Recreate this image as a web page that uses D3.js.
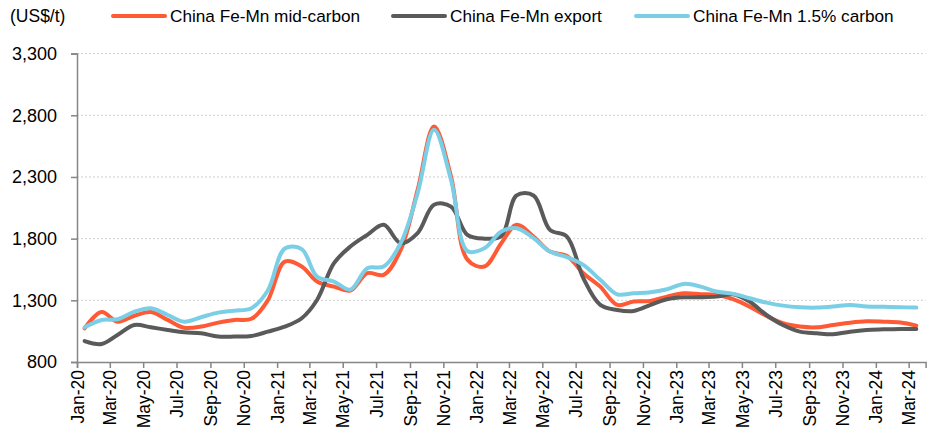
<!DOCTYPE html>
<html>
<head>
<meta charset="utf-8">
<script src="https://cdn.jsdelivr.net/npm/d3@7"></script>
<style>
  body { margin: 0; background: #fff; }
  text { font-family: "Liberation Sans", Arial, sans-serif; fill: #000; }
</style>
</head>
<body>
<div id="chart"></div>
<script>
// months (one point per month, plotted mid-month like the original)
const months = ["Jan-20","Feb-20","Mar-20","Apr-20","May-20","Jun-20","Jul-20","Aug-20","Sep-20","Oct-20","Nov-20","Dec-20",
  "Jan-21","Feb-21","Mar-21","Apr-21","May-21","Jun-21","Jul-21","Aug-21","Sep-21","Oct-21","Nov-21","Dec-21",
  "Jan-22","Feb-22","Mar-22","Apr-22","May-22","Jun-22","Jul-22","Aug-22","Sep-22","Oct-22","Nov-22","Dec-22",
  "Jan-23","Feb-23","Mar-23","Apr-23","May-23","Jun-23","Jul-23","Aug-23","Sep-23","Oct-23","Nov-23","Dec-23",
  "Jan-24","Feb-24","Mar-24"];

const midCarbon = [1073,1205,1127,1175,1205,1141,1078,1087,1119,1141,1150,1300,
  1614,1574,1452,1411,1379,1520,1506,1709,2196,2710,2304,1630,
  1574,1763,1912,1817,1695,1660,1520,1411,1263,1290,1295,1330,
  1357,1350,1344,1309,1249,1173,1114,1087,1081,1100,1119,1130,
  1127,1120,1095];

const exportPrice = [970,946,1019,1100,1081,1060,1041,1033,1006,1006,1011,1046,
  1087,1155,1303,1601,1736,1831,1912,1763,1845,2075,2060,1830,
  1800,1820,2150,2150,1871,1817,1480,1263,1222,1214,1263,1309,
  1325,1325,1330,1349,1290,1181,1100,1046,1033,1025,1046,1060,
  1065,1068,1068];

const carbon15 = [1081,1141,1146,1208,1236,1181,1127,1163,1200,1216,1236,1380,
  1720,1715,1492,1452,1387,1560,1574,1763,2169,2683,2277,1700,
  1722,1858,1885,1804,1695,1650,1587,1466,1349,1357,1365,1390,
  1433,1411,1371,1352,1317,1281,1257,1244,1241,1249,1263,1249,
  1247,1244,1241];

const seriesNames = ["China Fe-Mn mid-carbon", "China Fe-Mn export", "China Fe-Mn 1.5% carbon"];
const seriesColors = ["#FF5A36", "#5A5A5A", "#7ACFE6"];
const yTicks = [800, 1300, 1800, 2300, 2800, 3300];
const xTickLabels = ["Jan-20","Mar-20","May-20","Jul-20","Sep-20","Nov-20","Jan-21","Mar-21","May-21","Jul-21","Sep-21","Nov-21",
  "Jan-22","Mar-22","May-22","Jul-22","Sep-22","Nov-22","Jan-23","Mar-23","May-23","Jul-23","Sep-23","Nov-23","Jan-24","Mar-24"];

const width = 941, height = 434;
const parse = d3.timeParse("%b-%y");

const svg = d3.select("#chart").append("svg")
  .attr("width", width)
  .attr("height", height);

const x = d3.scaleTime()
  .domain([parse("Jan-20"), parse("Apr-24")])
  .range([77, 925.6]);

const y = d3.scaleLinear()
  .domain([800, 3300])
  .range([362, 53.6]);

// gridlines
svg.append("g")
  .selectAll("line")
  .data(yTicks.slice(1))
  .join("line")
  .attr("x1", x.range()[0])
  .attr("x2", x.range()[1])
  .attr("y1", d => y(d))
  .attr("y2", d => y(d))
  .attr("stroke", "#d0d0d0")
  .attr("stroke-width", 1)
  .attr("stroke-dasharray", "2,2");

// y axis
const yAxis = svg.append("g")
  .attr("transform", `translate(${x.range()[0]},0)`)
  .call(d3.axisLeft(y).tickValues(yTicks).tickFormat(d3.format(",")).tickSize(6).tickPadding(14));

// x axis
const xAxis = svg.append("g")
  .attr("transform", `translate(0,${y.range()[0]})`)
  .call(d3.axisBottom(x).tickValues(xTickLabels.map(parse)).tickFormat(d3.timeFormat("%b-%y")).tickSize(6));

xAxis.selectAll("text")
  .attr("transform", "rotate(-90)")
  .attr("text-anchor", "end")
  .attr("x", -8)
  .attr("y", 0)
  .attr("dy", "0.35em");

[yAxis, xAxis].forEach(a => {
  a.select(".domain").attr("stroke", "#868686").attr("stroke-width", 1.5);
  a.selectAll(".tick line").attr("stroke", "#868686").attr("stroke-width", 1.5);
  a.selectAll("text").style("font-family", "'Liberation Sans', Arial, sans-serif").attr("fill", "#000");
});
yAxis.selectAll("text").style("font-size", "18px");
xAxis.selectAll("text").style("font-size", "17.5px");

// lines
const allSeries = [midCarbon, exportPrice, carbon15];
const line = d3.line()
  .x((d, i) => x(d3.timeDay.offset(parse(months[i]), 14)))
  .y(d => y(d))
  .curve(d3.curveCatmullRom);

svg.append("g")
  .selectAll("path")
  .data(allSeries)
  .join("path")
  .attr("d", d => line(d))
  .attr("fill", "none")
  .attr("stroke", (d, i) => seriesColors[i])
  .attr("stroke-width", 4)
  .attr("stroke-linejoin", "round")
  .attr("stroke-linecap", "round");

// unit label
svg.append("text")
  .attr("x", 10)
  .attr("y", 22)
  .style("font-size", "17.5px")
  .text("(US$/t)");

// legend
const legendX = [113, 393, 636];
const legend = svg.append("g")
  .selectAll("g")
  .data(seriesNames)
  .join("g")
  .attr("transform", (d, i) => `translate(${legendX[i]},16)`);

legend.append("line")
  .attr("x1", 0)
  .attr("x2", 52)
  .attr("stroke", (d, i) => seriesColors[i])
  .attr("stroke-width", 4)
  .attr("stroke-linecap", "round");

legend.append("text")
  .attr("x", 57)
  .attr("dy", "0.35em")
  .style("font-size", "17.2px")
  .text(d => d);
</script>
</body>
</html>
